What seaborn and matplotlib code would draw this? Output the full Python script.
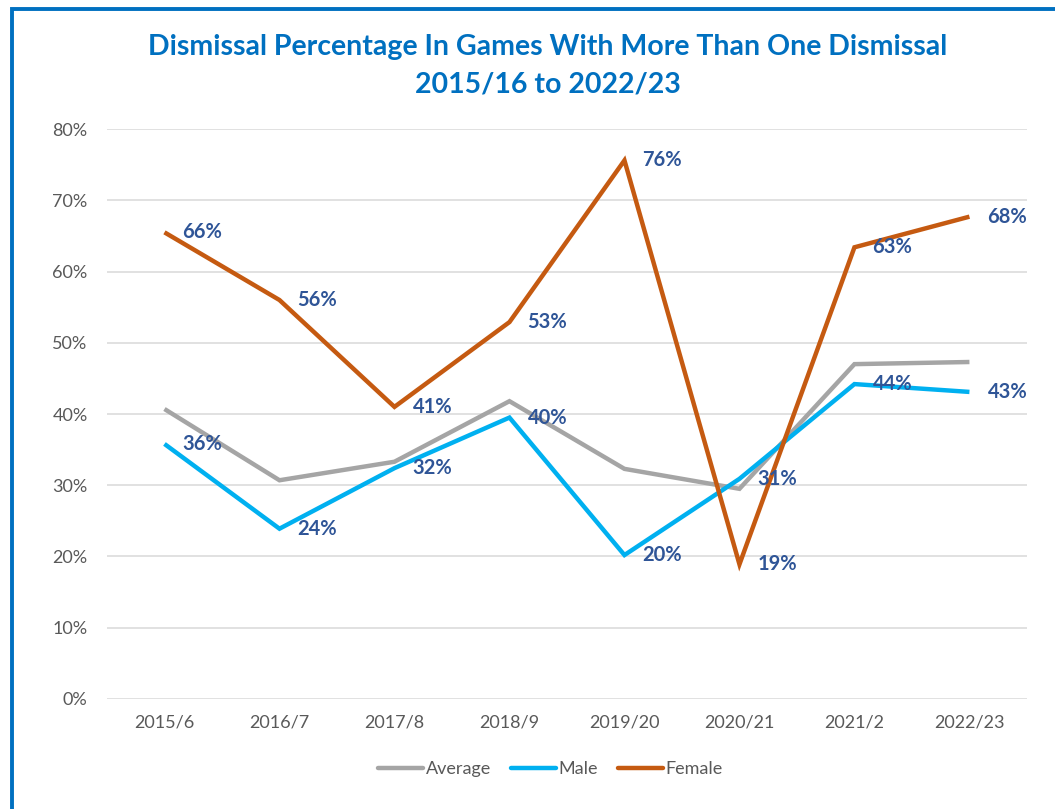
import matplotlib
matplotlib.use("Agg")
import matplotlib.pyplot as plt
from matplotlib.patches import Rectangle
from matplotlib.ticker import PercentFormatter
import pandas as pd
import seaborn as sns

seasons = ["2015/6", "2016/7", "2017/8", "2018/9", "2019/20", "2020/21", "2021/2", "2022/23"]
average = [40.7, 30.7, 33.3, 41.8, 32.3, 29.5, 47.0, 47.3]
male = [35.8, 23.9, 32.4, 39.5, 20.2, 30.9, 44.2, 43.1]
female = [65.5, 56.0, 41.0, 52.9, 75.6, 18.9, 63.4, 67.7]

series_names = ["Average", "Male", "Female"]
colors = {"Average": "#A5A5A5", "Male": "#00B0F0", "Female": "#C55A11"}
labelled = ["Male", "Female"]

title = "Dismissal Percentage In Games With More Than One Dismissal\n2015/16 to 2022/23"

sns.set_theme(style="white")
plt.rcParams["font.family"] = ["Lato", "DejaVu Sans"]

df = pd.concat(
    [pd.DataFrame({"season": seasons, "value": vals, "series": name})
     for name, vals in zip(series_names, [average, male, female])],
    ignore_index=True,
)

fig = plt.figure(figsize=(10.55, 8.09), dpi=100)
ax = fig.add_axes([0.1014, 0.136, 0.872, 0.7045])

sns.lineplot(data=df, x="season", y="value", hue="series", hue_order=series_names,
             palette=colors, linewidth=3.2, sort=False, ax=ax, legend=True)
for line in ax.get_lines():
    line.set_solid_joinstyle("miter")
    line.set_solid_capstyle("butt")

ax.set_xlim(-0.5, len(seasons) - 0.5)
ax.set_ylim(0, 80)
ax.set_yticks(range(0, 81, 10))
ax.yaxis.set_major_formatter(PercentFormatter(decimals=0))
ax.grid(axis="y", color="#D9D9D9", linewidth=1.1)
ax.grid(axis="x", visible=False)
for s in ax.spines.values():
    s.set_visible(False)
ax.tick_params(axis="both", length=0, labelsize=13, labelcolor="#595959")
ax.tick_params(axis="x", pad=11)
ax.tick_params(axis="y", pad=14)
ax.set_xlabel("")
ax.set_ylabel("")

# value labels for Male and Female
data_by_name = {"Average": average, "Male": male, "Female": female}
for name in labelled:
    for i, v in enumerate(data_by_name[name]):
        ax.annotate(f"{v:.0f}%", (i, v), xytext=(13, 0), textcoords="offset points",
                    ha="left", va="center", fontsize=14.5, fontweight="bold",
                    color="#2F5597")

handles, labels = ax.get_legend_handles_labels()
for h in handles:
    h.set_solid_capstyle("round")
    h.set_linewidth(3.2)
ax.legend(handles, labels, loc="upper center", bbox_to_anchor=(0.482, -0.08),
          ncol=3, frameon=False, fontsize=13, labelcolor="#595959",
          handlelength=2.5, handletextpad=0.15, columnspacing=1.1)

fig.text(0.519, 0.958, title, ha="center", va="top", fontsize=20.5,
         fontweight="bold", color="#0070C0", linespacing=1.55)

# chart frame
fig.patches.append(Rectangle((11.5 / 1055, -0.1), 1.2, 1.1 - 9.5 / 809,
                             transform=fig.transFigure, fill=False,
                             edgecolor="#0070C0", linewidth=2.8))

fig.savefig("out.png", dpi=100)
